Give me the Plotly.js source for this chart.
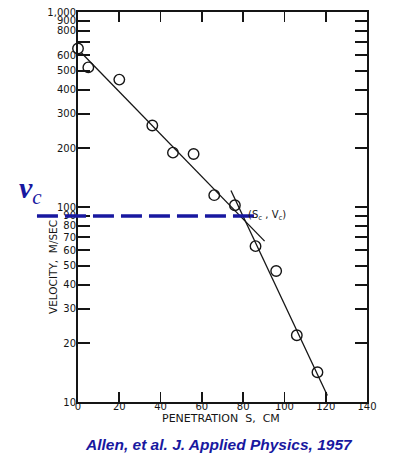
<!DOCTYPE html>
<html>
<head>
<meta charset="utf-8">
<script src="https://cdn.plot.ly/plotly-3.0.1.min.js"></script>
<style>
  html, body { margin: 0; padding: 0; background: #ffffff; }
  #chart { width: 400px; height: 472px; }
</style>
</head>
<body>
<div id="chart"></div>
<script>
// ---- data ----
const penetration = [0, 5, 20, 36, 46, 56, 66, 76, 86, 96, 106, 116];      // S, cm
const velocity    = [650, 520, 450, 262, 190, 187, 115, 102, 63, 47, 22, 14.2]; // m/sec

const fit1X = [1.5, 90.4];
const fit1Y = [620, 66.8];
const fit2X = [74.1, 120.8];
const fit2Y = [121.5, 10.8];

const vc = 90;           // critical velocity (dashed reference)
const vcLineEndX = 85.4; // dashed line ends just past the knee

const xTickVals = [0, 20, 40, 60, 80, 100, 120, 140];
const xTickText = ['0', '20', '40', '60', '80', '100', '120', '140'];
const yTickVals = [10, 20, 30, 40, 50, 60, 70, 80, 90, 100, 200, 300, 400, 500, 600, 700, 800, 900, 1000];
const yTickText = ['10', '20', '30', '40', '50', '60', '70', '80', '90', '100', '200', '300', '400', '500', '600', '', '800', '900', '1,000'];

const xRange = [0, 140];
const blue = '#1818a0';
const ink = '#151515';
const tickFont = {family: 'DejaVu Sans', size: 10, color: ink};

const traces = [
  {x: fit1X, y: fit1Y, mode: 'lines', line: {color: ink, width: 1.3}, hoverinfo: 'skip'},
  {x: fit2X, y: fit2Y, mode: 'lines', line: {color: ink, width: 1.3}, hoverinfo: 'skip'},
  {x: penetration, y: velocity, mode: 'markers', cliponaxis: false,
   marker: {symbol: 'circle-open', size: 10.5, color: ink, line: {color: ink, width: 1.4}}}
];

const layout = {
  width: 400, height: 472,
  margin: {l: 78, r: 33, t: 12, b: 70},
  paper_bgcolor: '#ffffff', plot_bgcolor: '#ffffff',
  showlegend: false,
  xaxis: {
    range: xRange, tickvals: xTickVals, ticktext: xTickText,
    ticks: 'inside', ticklen: 10, tickwidth: 1.8, tickcolor: ink,
    ticklabelstandoff: -6,
    showline: true, linewidth: 2, linecolor: ink, mirror: 'ticks',
    showgrid: false, zeroline: false, tickfont: tickFont
  },
  yaxis: {
    type: 'log', range: [1, 3], tickvals: yTickVals, ticktext: yTickText,
    ticks: 'inside', ticklen: 12, tickwidth: 1.8, tickcolor: ink,
    ticklabelstandoff: -2,
    showline: true, linewidth: 2, linecolor: ink, mirror: 'ticks',
    showgrid: false, zeroline: false, tickfont: tickFont
  },
  shapes: [
    {type: 'line', xref: 'paper', yref: 'y', layer: 'above',
     x0: -0.142, x1: (vcLineEndX - xRange[0]) / (xRange[1] - xRange[0]),
     y0: vc, y1: vc,
     line: {color: blue, width: 3.5, dash: '21px,7px'}}
  ],
  annotations: []
};

// place annotations in pixel terms relative to plot area
const plotW = 400 - 78 - 33, plotH = 472 - 12 - 70;
function px(x) { return (x - 78) / plotW; }
function py(y) { return (472 - 70 - y) / plotH; }

layout.annotations.push(
  {xref: 'paper', yref: 'paper', x: px(221), y: py(410.5), xanchor: 'center', yanchor: 'top',
   text: 'PENETRATION  S,  CM', showarrow: false,
   font: {family: 'DejaVu Sans', size: 11, color: ink}},
  {xref: 'paper', yref: 'paper', x: px(53), y: py(267), textangle: -90,
   xanchor: 'center', yanchor: 'middle', showarrow: false,
   text: 'VELOCITY,  M/SEC', font: {family: 'DejaVu Sans', size: 10.5, color: ink}},
  {xref: 'paper', yref: 'paper', x: px(17), y: py(190), xanchor: 'left', yanchor: 'middle',
   showarrow: false, text: '<i><b>v</b><sub>c</sub></i>',
   font: {family: 'Liberation Serif', size: 30, color: blue}},
  {xref: 'paper', yref: 'paper', x: px(246), y: py(216), xanchor: 'left', yanchor: 'middle',
   showarrow: false, text: '(S<sub>c</sub> , V<sub>c</sub>)',
   font: {family: 'DejaVu Sans', size: 10, color: ink}},
  {xref: 'paper', yref: 'paper', x: px(219), y: py(444), xanchor: 'center', yanchor: 'middle',
   showarrow: false, text: '<b><i>Allen, et al. J. Applied Physics, 1957</i></b>',
   font: {family: 'Liberation Sans', size: 15.5, color: blue}}
);

Plotly.newPlot('chart', traces, layout, {displayModeBar: false, staticPlot: true});
</script>
</body>
</html>
